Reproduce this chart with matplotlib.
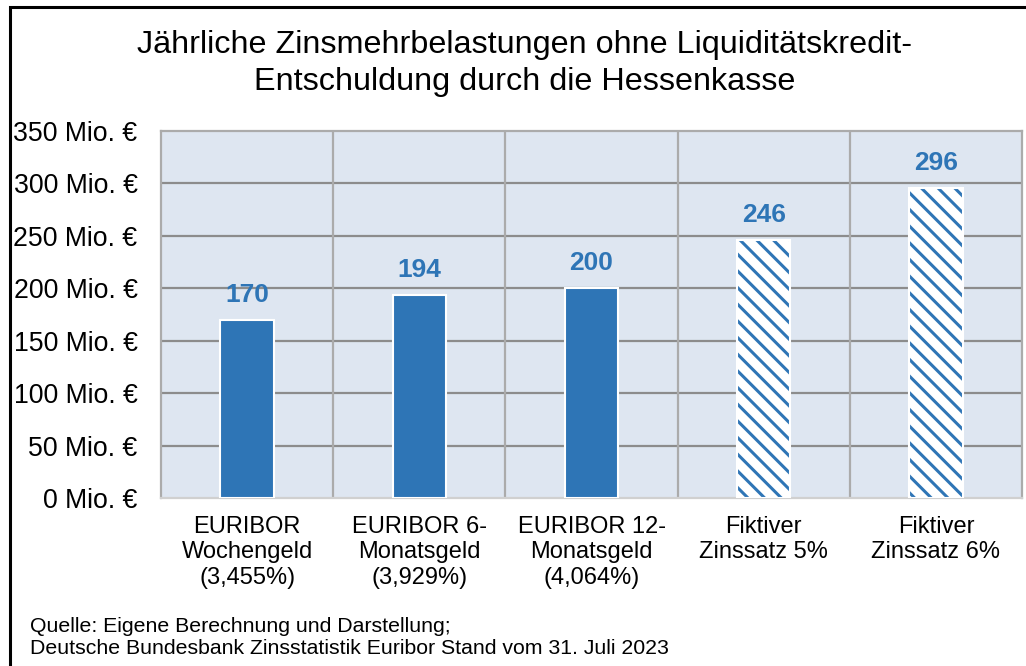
import matplotlib
matplotlib.use("Agg")
import matplotlib.pyplot as plt
from matplotlib.patches import Rectangle

plt.rcParams['font.family'] = ['Liberation Sans', 'DejaVu Sans']
plt.rcParams['hatch.linewidth'] = 2.2

categories = ["EURIBOR\nWochengeld\n(3,455%)", "EURIBOR 6-\nMonatsgeld\n(3,929%)",
              "EURIBOR 12-\nMonatsgeld\n(4,064%)", "Fiktiver\nZinssatz 5%", "Fiktiver\nZinssatz 6%"]
values = [170, 194, 200, 246, 296]
hatched = [False, False, False, True, True]
yticks = [0, 50, 100, 150, 200, 250, 300, 350]
ytick_labels = [f"{v} Mio. €" for v in yticks]

blue = "#2E75B6"
W, H = 1026, 666
fig = plt.figure(figsize=(W / 100, H / 100), dpi=100)
ax = fig.add_axes([161 / W, 1 - 498 / H, (1022 - 161) / W, (498 - 131) / H])
ax.set_facecolor("#DEE6F1")

x = list(range(len(values)))
for xi, v, h in zip(x, values, hatched):
    if h:
        ax.bar(xi, v, width=0.31, color="white", edgecolor=blue, hatch="\\\\", linewidth=0, zorder=3)
        ax.bar(xi, v, width=0.31, fill=False, edgecolor="white", linewidth=1.5, zorder=4)
    else:
        ax.bar(xi, v, width=0.31, color=blue, edgecolor="white", linewidth=1.5, zorder=3)
    ax.text(xi, v + 17, str(v), ha="center", va="baseline", fontsize=19,
            fontweight="bold", color=blue, zorder=5)

ax.set_xlim(-0.5, len(values) - 0.5)
ax.set_ylim(0, 350)
ax.set_yticks(yticks)
ax.set_yticklabels(ytick_labels, fontsize=19.2)
ax.set_xticks(x)
ax.set_xticklabels(categories, fontsize=17, linespacing=1.2)
ax.tick_params(axis="both", length=0)
ax.tick_params(axis="y", pad=17)
ax.tick_params(axis="x", pad=13)
for yv in yticks[1:-1]:
    ax.axhline(yv, color="#8C8C8C", linewidth=1.6, zorder=1)
for xv in [0.5, 1.5, 2.5, 3.5]:
    ax.axvline(xv, color="#ABABAB", linewidth=1.6, zorder=1)
for s in ax.spines.values():
    s.set_color("#ABABAB")
    s.set_linewidth(1.6)
ax.spines["bottom"].set_color("#D0D0D0")

fig.text(525 / W, 1 - 45 / H, "Jährliche Zinsmehrbelastungen ohne Liquiditätskredit-",
         ha="center", va="center", fontsize=23.3)
fig.text(525 / W, 1 - 82 / H, "Entschuldung durch die Hessenkasse",
         ha="center", va="center", fontsize=23.3)
fig.text(30 / W, 1 - 626 / H, "Quelle: Eigene Berechnung und Darstellung;",
         ha="left", va="center", fontsize=15.3)
fig.text(30 / W, 1 - 648 / H, "Deutsche Bundesbank Zinsstatistik Euribor Stand vom 31. Juli 2023",
         ha="left", va="center", fontsize=15.3)

fig.patches.append(Rectangle((10 / W, -0.1), 1.2, 1 - 7 / H + 0.1, transform=fig.transFigure,
                             fill=False, edgecolor="black", linewidth=2.2, zorder=10))

fig.savefig("out.png", dpi=100)
